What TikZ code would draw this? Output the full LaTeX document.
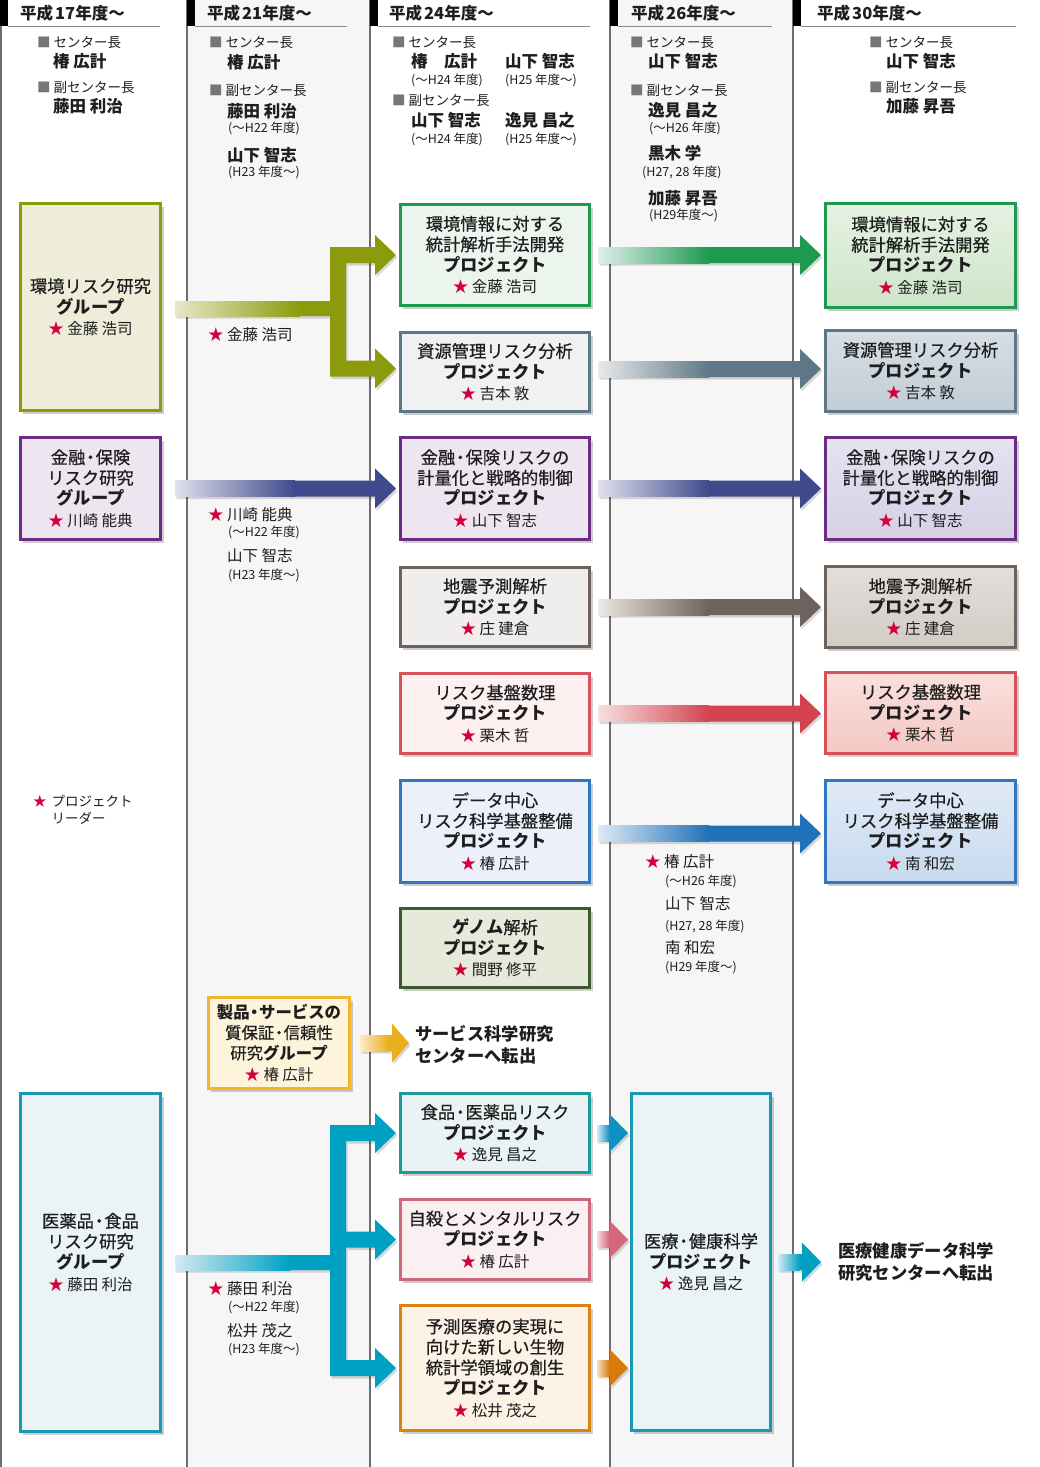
\documentclass[tikz,border=0pt]{standalone}
\usepackage{fontspec}
\setmainfont{Noto Sans CJK JP}
\newfontfamily\jpmd{Noto Sans CJK JP}[FakeBold=0.5]
\usetikzlibrary{calc,shadows}
\definecolor{colbg}{HTML}{F6F6F6}
\definecolor{linec}{HTML}{6E6E6E}
\definecolor{ulc}{HTML}{8A8A8A}
\definecolor{sqc}{HTML}{777777}
\definecolor{starc}{HTML}{D4003B}
\definecolor{txt}{HTML}{1E1E1E}
\definecolor{oliveb}{HTML}{8C9B0C}\definecolor{olivef}{HTML}{EDEDDA}\definecolor{olivel}{HTML}{E6E8C8}
\definecolor{purpb}{HTML}{6B2D84}\definecolor{purpf}{HTML}{EDE6F0}
\definecolor{navya}{HTML}{3F4A8C}\definecolor{navyl}{HTML}{E0E0EC}
\definecolor{greenb}{HTML}{1E9A50}\definecolor{greenf}{HTML}{ECF4EE}\definecolor{greenl}{HTML}{E0EFEE}
\definecolor{slateb}{HTML}{5E7786}\definecolor{slatef}{HTML}{EFF1F3}\definecolor{slatel}{HTML}{E8EAEC}
\definecolor{brownb}{HTML}{6E625D}\definecolor{brownf}{HTML}{F0EEEC}\definecolor{brownl}{HTML}{ECE8E2}
\definecolor{redb}{HTML}{D9505B}\definecolor{redf}{HTML}{FCF0F0}\definecolor{reda}{HTML}{D3434F}\definecolor{redl}{HTML}{F7E0E0}
\definecolor{blueb}{HTML}{2F78C1}\definecolor{bluef}{HTML}{EBF0FA}\definecolor{bluea}{HTML}{1F72B8}\definecolor{bluel}{HTML}{DFE9F5}
\definecolor{dgreenb}{HTML}{3D5A2D}\definecolor{dgreenf}{HTML}{E6EADA}
\definecolor{tealb}{HTML}{1D9B9C}\definecolor{tealf}{HTML}{EAF3F4}
\definecolor{pinkb}{HTML}{CE6878}\definecolor{pinkf}{HTML}{FAEFF1}\definecolor{pinka}{HTML}{D4677A}\definecolor{pinkl}{HTML}{F5DCE0}
\definecolor{orangeb}{HTML}{DA8512}\definecolor{orangef}{HTML}{FCF2E5}\definecolor{orangea}{HTML}{D97B0B}\definecolor{orangel}{HTML}{F6E0C4}
\definecolor{cyanb}{HTML}{1A98B6}\definecolor{cyanf}{HTML}{EAF3F6}\definecolor{cyana}{HTML}{00A0C2}\definecolor{cyanl}{HTML}{D3EBF1}
\definecolor{skya}{HTML}{1191C3}\definecolor{skyl}{HTML}{D6EAF3}
\definecolor{yellb}{HTML}{F2B62D}\definecolor{yellf}{HTML}{FDF4DB}\definecolor{yella}{HTML}{E9AE1D}\definecolor{yelll}{HTML}{FBEDC6}
\definecolor{r1t}{HTML}{E6F2E2}\definecolor{r1b}{HTML}{CDE5C9}
\definecolor{r2t}{HTML}{D6DEE4}\definecolor{r2b}{HTML}{C3CDD5}
\definecolor{r3t}{HTML}{E6E2F0}\definecolor{r3b}{HTML}{D6D0E6}
\definecolor{r4t}{HTML}{E2DEDA}\definecolor{r4b}{HTML}{D2CCC6}
\definecolor{r5t}{HTML}{FAE0DC}\definecolor{r5b}{HTML}{F3C8C3}
\definecolor{r6t}{HTML}{E0EAF6}\definecolor{r6b}{HTML}{C8DAEF}
\newcommand\leadname[1]{{\rmfamily\mdseries\fontsize{15.5}{20}\selectfont{\color{starc}★}\ #1}}
\newcommand\pjb[1]{{\rmfamily\bfseries #1}}
\newcommand\sq{{\color{sqc}■}\kern3pt }
\newcommand\nd{\kern-3.5pt・\kern-3.5pt}
\newcommand\fatarrow[7]{%
  \coordinate (fab) at ($(#2)+(-#6,0)$);
  \coordinate (fam) at ($(#1)!#5!(fab)$);
  \fill[black,opacity=.15,transform canvas={shift={(1.5pt,-2.5pt)}}]
    ($(#1)+(0,-8)$) -- ($(fab)+(0,-8)$) -- ($(fab)+(0,-#7)$) -- (#2) -- ($(fab)+(0,#7)$) -- ($(fab)+(0,8)$) -- ($(#1)+(0,8)$) -- cycle;
  \fill[#3] ($(#1)+(0,-8)$) -- ($(fab)+(0,-8)$) -- ($(fab)+(0,-#7)$) -- (#2) -- ($(fab)+(0,#7)$) -- ($(fab)+(0,8)$) -- ($(#1)+(0,8)$) -- cycle;
  \shade[left color=#4,right color=#3] ($(#1)+(0,-8)$) rectangle ($(fam)+(0,8)$);
}
\begin{document}
\begin{tikzpicture}[x=1pt,y=-1pt,
  hdr/.style={anchor=west,inner sep=0pt,text=txt,font=\bfseries\fontsize{16.5}{18}\selectfont},
  role/.style={anchor=west,inner sep=0pt,text=txt,font=\fontsize{13.5}{15}\selectfont},
  chief/.style={anchor=west,inner sep=0pt,text=txt,font=\bfseries\fontsize{16.5}{18}\selectfont},
  term/.style={anchor=west,inner sep=0pt,text=txt,font=\fontsize{12.5}{14}\selectfont},
  lead/.style={anchor=west,inner sep=0pt,text=txt,font=\fontsize{15.5}{18}\selectfont},
  box/.style={align=center,inner sep=0pt,line width=2.8pt,text=txt,font=\jpmd\fontsize{17.3}{20.5}\selectfont,
    drop shadow={shadow xshift=3pt,shadow yshift=-3.5pt,opacity=.28,fill=black!70}},
  outtxt/.style={anchor=west,align=left,inner sep=0pt,text=txt,font=\bfseries\fontsize{17.3}{22}\selectfont},
  colline/.style={draw=linec,line width=1.1pt},
  uline/.style={draw=ulc,line width=1pt},
]
\useasboundingbox (0,0) rectangle (1040,1467);
% column backgrounds and rules
\fill[white] (0,0) rectangle (1040,1467);
\fill[colbg] (187,0) rectangle (370,1467);
\fill[colbg] (610,0) rectangle (793,1467);
\draw[colline] (1,0) -- (1,1467);
\draw[colline] (187,0) -- (187,1467);
\draw[colline] (370,0) -- (370,1467);
\draw[colline] (610,0) -- (610,1467);
\draw[colline] (793,0) -- (793,1467);
% header tabs
\fill[black] (0,0) rectangle (8,26);   \draw[uline] (8,26) -- (160,26);
\fill[black] (187,0) rectangle (195,26); \draw[uline] (195,26) -- (347,26);
\fill[black] (370,0) rectangle (378,26); \draw[uline] (378,26) -- (590,26);
\fill[black] (610,0) rectangle (618,26); \draw[uline] (618,26) -- (772,26);
\fill[black] (793,0) rectangle (801,26); \draw[uline] (801,26) -- (1016,26);
\node[hdr] (h1) at (20,13) {平成\kern2pt 17年度～};
\node[hdr] (h2) at (207,13) {平成\kern2pt 21年度～};
\node[hdr] (h3) at (389,13) {平成\kern2pt 24年度～};
\node[hdr] (h4) at (631,13) {平成\kern2pt 26年度～};
\node[hdr] (h5) at (817,13) {平成\kern2pt 30年度～};
% staff column 1
\node[role] (s1a) at (37,43) {\sq センター長};
\node[chief] (s1b) at (53,61) {椿 広計};
\node[role] (s1c) at (37,88) {\sq 副センター長};
\node[chief] (s1d) at (53,106) {藤田 利治};
% staff column 2
\node[role] (s2a) at (209,43) {\sq センター長};
\node[chief] (s2b) at (227,62) {椿 広計};
\node[role] (s2c) at (209,91) {\sq 副センター長};
\node[chief] (s2d) at (227,111) {藤田 利治};
\node[term] (s2e) at (228,128) {(～H22 年度)};
\node[chief] (s2f) at (227,155) {山下 智志};
\node[term] (s2g) at (228,172) {(H23 年度～)};
% staff column 3
\node[role] (s3a) at (392,43) {\sq センター長};
\node[chief] (s3b) at (411,61) {椿　広計};
\node[chief] (s3c) at (505,61) {山下 智志};
\node[term] (s3d) at (411,80) {(～H24 年度)};
\node[term] (s3e) at (505,80) {(H25 年度～)};
\node[role] (s3f) at (392,101) {\sq 副センター長};
\node[chief] (s3g) at (411,120) {山下 智志};
\node[chief] (s3h) at (505,120) {逸見 昌之};
\node[term] (s3i) at (411,139) {(～H24 年度)};
\node[term] (s3j) at (505,139) {(H25 年度～)};
% staff column 4
\node[role] (s4a) at (630,43) {\sq センター長};
\node[chief] (s4b) at (648,61) {山下 智志};
\node[role] (s4c) at (630,91) {\sq 副センター長};
\node[chief] (s4d) at (648,110) {逸見 昌之};
\node[term] (s4e) at (649,128) {(～H26 年度)};
\node[chief] (s4f) at (648,153) {黒木 学};
\node[term] (s4g) at (642,172) {(H27, 28 年度)};
\node[chief] (s4h) at (648,198) {加藤 昇吾};
\node[term] (s4i) at (649,215) {(H29年度～)};
% staff column 5
\node[role] (s5a) at (869,43) {\sq センター長};
\node[chief] (s5b) at (886,61) {山下 智志};
\node[role] (s5c) at (869,88) {\sq 副センター長};
\node[chief] (s5d) at (886,106) {加藤 昇吾};
% groups (column 1)
\node[box,draw=oliveb,fill=olivef,minimum width=140.2,minimum height=207.2] (g1) at (90.5,307)
  {環境リスク研究\\\pjb{グループ}\\[1pt]\leadname{金藤 浩司}};
\node[box,draw=purpb,fill=purpf,minimum width=140.2,minimum height=102.2] (g2) at (90.5,488.5)
  {金融\nd 保険\\リスク研究\\\pjb{グループ}\\[1pt]\leadname{川崎 能典}};
\node[box,draw=cyanb,fill=cyanf,minimum width=140.2,minimum height=338.2] (g3) at (90.5,1262.5)
  {医薬品\nd 食品\\リスク研究\\\pjb{グループ}\\[1pt]\leadname{藤田 利治}\\[1.5pt]\mbox{}};
\node[anchor=west,inner sep=0pt,align=left,text=txt,font=\fontsize{13.5}{17}\selectfont] (legend) at (33,809.5)
  {{\color{starc}★}\kern5pt プロジェクト\\\phantom{★}\kern5pt リーダー};
% column 2
\node[box,draw=yellb,fill=yellf,minimum width=141.2,minimum height=91.2,font=\jpmd\fontsize{16.4}{20.3}\selectfont] (g4) at (279,1043)
  {\pjb{製品\nd サービスの}\\質保証\nd 信頼性\\研究\pjb{グループ}\\[1pt]\leadname{椿 広計}};
\node[lead] (c2a) at (208,335) {{\color{starc}★} 金藤 浩司};
\node[lead] (c2b) at (208,515) {{\color{starc}★} 川崎 能典};
\node[term] (c2c) at (228,532) {(～H22 年度)};
\node[lead] (c2d) at (227,556) {山下 智志};
\node[term] (c2e) at (228,575) {(H23 年度～)};
\node[lead] (c2f) at (208,1289) {{\color{starc}★} 藤田 利治};
\node[term] (c2g) at (228,1307) {(～H22 年度)};
\node[lead] (c2h) at (227,1331) {松井 茂之};
\node[term] (c2i) at (228,1349) {(H23 年度～)};
% projects (column 3)
\node[box,draw=greenb,fill=greenf,minimum width=189.2,minimum height=101.2] (p1) at (495,255)
  {環境情報に対する\\統計解析手法開発\\\pjb{プロジェクト}\\[1pt]\leadname{金藤 浩司}};
\node[box,draw=slateb,fill=slatef,minimum width=189.2,minimum height=79.2] (p2) at (495,372)
  {資源管理リスク分析\\\pjb{プロジェクト}\\[1pt]\leadname{吉本 敦}};
\node[box,draw=purpb,fill=purpf,minimum width=189.2,minimum height=102.2] (p3) at (495,488.5)
  {金融\nd 保険リスクの\\計量化と戦略的制御\\\pjb{プロジェクト}\\[1pt]\leadname{山下 智志}};
\node[box,draw=brownb,fill=brownf,minimum width=189.2,minimum height=79.2] (p4) at (495,607)
  {地震予測解析\\\pjb{プロジェクト}\\[1pt]\leadname{庄 建倉}};
\node[box,draw=redb,fill=redf,minimum width=189.2,minimum height=80.2] (p5) at (495,713.5)
  {リスク基盤数理\\\pjb{プロジェクト}\\[1pt]\leadname{栗木 哲}};
\node[box,draw=blueb,fill=bluef,minimum width=189.2,minimum height=102.2] (p6) at (495,831.5)
  {データ中心\\リスク科学基盤整備\\\pjb{プロジェクト}\\[1pt]\leadname{椿 広計}};
\node[box,draw=dgreenb,fill=dgreenf,minimum width=189.2,minimum height=79.2] (p7) at (495,948)
  {\pjb{ゲノム}解析\\\pjb{プロジェクト}\\[1pt]\leadname{間野 修平}};
\node[box,draw=tealb,fill=tealf,minimum width=189.2,minimum height=79.2] (p8) at (495,1133)
  {食品\nd 医薬品リスク\\\pjb{プロジェクト}\\[1pt]\leadname{逸見 昌之}};
\node[box,draw=pinkb,fill=pinkf,minimum width=189.2,minimum height=80.2] (p9) at (495,1239.5)
  {自殺とメンタルリスク\\\pjb{プロジェクト}\\[1pt]\leadname{椿 広計}};
\node[box,draw=orangeb,fill=orangef,minimum width=189.2,minimum height=125.2] (p10) at (495,1368)
  {予測医療の実現に\\向けた新しい生物\\統計学領域の創生\\\pjb{プロジェクト}\\[1pt]\leadname{松井 茂之}};
\node[outtxt] (t1) at (415,1045) {サービス科学研究\\センターへ転出};
% column 4
\node[lead] (c4a) at (645,862) {{\color{starc}★} 椿 広計};
\node[term] (c4b) at (665,881) {(～H26 年度)};
\node[lead] (c4c) at (665,904) {山下 智志};
\node[term] (c4d) at (665,926) {(H27, 28 年度)};
\node[lead] (c4e) at (665,948) {南 和宏};
\node[term] (c4f) at (665,967) {(H29 年度～)};
\node[box,draw=cyanb,fill=cyanf,minimum width=139.2,minimum height=337.2] (q1) at (701,1262)
  {医療\nd 健康科学\\\pjb{プロジェクト}\\[1pt]\leadname{逸見 昌之}};
% column 5
\node[box,draw=greenb,top color=r1t,bottom color=r1b,minimum width=190.2,minimum height=104.2] (r1) at (920.5,255.5)
  {環境情報に対する\\統計解析手法開発\\\pjb{プロジェクト}\\[1pt]\leadname{金藤 浩司}};
\node[box,draw=slateb,top color=r2t,bottom color=r2b,minimum width=190.2,minimum height=81.2] (r2) at (920.5,371)
  {資源管理リスク分析\\\pjb{プロジェクト}\\[1pt]\leadname{吉本 敦}};
\node[box,draw=purpb,top color=r3t,bottom color=r3b,minimum width=190.2,minimum height=102.2] (r3) at (920.5,488.5)
  {金融\nd 保険リスクの\\計量化と戦略的制御\\\pjb{プロジェクト}\\[1pt]\leadname{山下 智志}};
\node[box,draw=brownb,top color=r4t,bottom color=r4b,minimum width=190.2,minimum height=81.2] (r4) at (920.5,607)
  {地震予測解析\\\pjb{プロジェクト}\\[1pt]\leadname{庄 建倉}};
\node[box,draw=redb,top color=r5t,bottom color=r5b,minimum width=190.2,minimum height=81.2] (r5) at (920.5,713)
  {リスク基盤数理\\\pjb{プロジェクト}\\[1pt]\leadname{栗木 哲}};
\node[box,draw=blueb,top color=r6t,bottom color=r6b,minimum width=190.2,minimum height=102.2] (r6) at (920.5,831.5)
  {データ中心\\リスク科学基盤整備\\\pjb{プロジェクト}\\[1pt]\leadname{南 和宏}};
\node[outtxt] (t2) at (838,1262) {医療健康データ科学\\研究センターへ転出};
% ---------- branching connector: environment group ----------
\coordinate (eT) at ($(g1.east)+(13,1.5)$);
\coordinate (e1) at ($(p1.west)+(-3,0)$);
\coordinate (e2) at ($(p2.west)+(-3,-3.5)$);
\tikzset{envpath/.style={insert path={
  ($(eT)+(0,-7.5)$) -- ($(e1 |- eT)+(-66,-7.5)$) -- ($(e1)+(-66,-8)$) -- ($(e1)+(-21,-8)$) -- ($(e1)+(-21,-20)$) -- (e1)
  -- ($(e1)+(-21,20)$) -- ($(e1)+(-21,8)$) -- ($(e1)+(-50,8)$) -- ($(e2)+(-50,-8)$) -- ($(e2)+(-21,-8)$)
  -- ($(e2)+(-21,-20)$) -- (e2) -- ($(e2)+(-21,20)$) -- ($(e2)+(-21,8)$) -- ($(e2)+(-66,8)$)
  -- ($(e1 |- eT)+(-66,7.5)$) -- ($(eT)+(0,7.5)$) -- cycle}}}
\fill[black,opacity=.15,transform canvas={shift={(1.5pt,-2.5pt)}},envpath];
\fill[oliveb,envpath];
\shade[left color=olivel,right color=oliveb] ($(eT)+(0,-7.5)$) rectangle ($(e1 |- eT)+(-96,7.5)$);
% ---------- branching connector: medical group ----------
\coordinate (mT) at ($(g3.east)+(13,0)$);
\coordinate (m1) at ($(p8.west)+(-3,0)$);
\coordinate (m2) at ($(p9.west)+(-3,0)$);
\coordinate (m3) at ($(p10.west)+(-3,0)$);
\tikzset{medpath/.style={insert path={
  ($(mT)+(0,-7.5)$) -- ($(m1 |- mT)+(-66,-7.5)$) -- ($(m1)+(-66,-8)$) -- ($(m1)+(-21,-8)$) -- ($(m1)+(-21,-20)$) -- (m1)
  -- ($(m1)+(-21,20)$) -- ($(m1)+(-21,8)$) -- ($(m1)+(-50,8)$) -- ($(m2)+(-50,-8)$) -- ($(m2)+(-21,-8)$)
  -- ($(m2)+(-21,-20)$) -- (m2) -- ($(m2)+(-21,20)$) -- ($(m2)+(-21,8)$) -- ($(m2)+(-50,8)$)
  -- ($(m3)+(-50,-8)$) -- ($(m3)+(-21,-8)$) -- ($(m3)+(-21,-20)$) -- (m3) -- ($(m3)+(-21,20)$) -- ($(m3)+(-21,8)$)
  -- ($(m3)+(-66,8)$) -- ($(m1 |- mT)+(-66,7.5)$) -- ($(mT)+(0,7.5)$) -- cycle}}}
\fill[black,opacity=.15,transform canvas={shift={(1.5pt,-2.5pt)}},medpath];
\fill[cyana,medpath];
\shade[left color=cyanl,right color=cyana] ($(mT)+(0,-7.5)$) rectangle ($(m1 |- mT)+(-106,7.5)$);
% ---------- straight connectors ----------
\coordinate (a1t) at ($(g2.east)+(13,0)$);
\coordinate (a1h) at ($(p3.west |- a1t)+(-3,0)$);
\fatarrow{a1t}{a1h}{navya}{navyl}{0.6}{21}{20}
\coordinate (b1t) at ($(p1.east)+(7,0)$);
\coordinate (b1h) at ($(r1.west |- b1t)+(-3,0)$);
\fatarrow{b1t}{b1h}{greenb}{greenl}{0.55}{21}{20}
\coordinate (b2t) at ($(p2.east)+(7,-3)$);
\coordinate (b2h) at ($(r2.west |- b2t)+(-3,0)$);
\fatarrow{b2t}{b2h}{slateb}{slatel}{0.55}{21}{20}
\coordinate (b3t) at ($(p3.east)+(7,0)$);
\coordinate (b3h) at ($(r3.west |- b3t)+(-3,0)$);
\fatarrow{b3t}{b3h}{navya}{navyl}{0.55}{21}{20}
\coordinate (b4t) at ($(p4.east)+(7,0)$);
\coordinate (b4h) at ($(r4.west |- b4t)+(-3,0)$);
\fatarrow{b4t}{b4h}{brownb}{brownl}{0.55}{21}{20}
\coordinate (b5t) at ($(p5.east)+(7,0)$);
\coordinate (b5h) at ($(r5.west |- b5t)+(-3,0)$);
\fatarrow{b5t}{b5h}{reda}{redl}{0.55}{21}{20}
\coordinate (b6t) at ($(p6.east)+(7,2)$);
\coordinate (b6h) at ($(r6.west |- b6t)+(-3,0)$);
\fatarrow{b6t}{b6h}{bluea}{bluel}{0.55}{21}{20}
\coordinate (c1t) at ($(g4.east)+(9,0)$);
\coordinate (c1h) at ($(t1.west |- c1t)+(-6,0)$);
\fatarrow{c1t}{c1h}{yella}{yelll}{0.9}{17}{19.5}
\coordinate (d1t) at ($(p8.east)+(6,0)$);
\coordinate (d1h) at ($(q1.west |- d1t)+(-2,0)$);
\fatarrow{d1t}{d1h}{skya}{skyl}{0.95}{18}{18.5}
\coordinate (d2t) at ($(p9.east)+(6,0)$);
\coordinate (d2h) at ($(q1.west |- d2t)+(-2,0)$);
\fatarrow{d2t}{d2h}{pinka}{pinkl}{0.95}{18}{18.5}
\coordinate (d3t) at ($(p10.east)+(6,0)$);
\coordinate (d3h) at ($(q1.west |- d3t)+(-2,0)$);
\fatarrow{d3t}{d3h}{orangea}{orangel}{0.95}{18}{18.5}
\coordinate (f1t) at ($(q1.east)+(6,0)$);
\coordinate (f1h) at ($(t2.west |- f1t)+(-17,0)$);
\fatarrow{f1t}{f1h}{cyana}{cyanl}{0.9}{19}{19.5}
\end{tikzpicture}
\end{document}
